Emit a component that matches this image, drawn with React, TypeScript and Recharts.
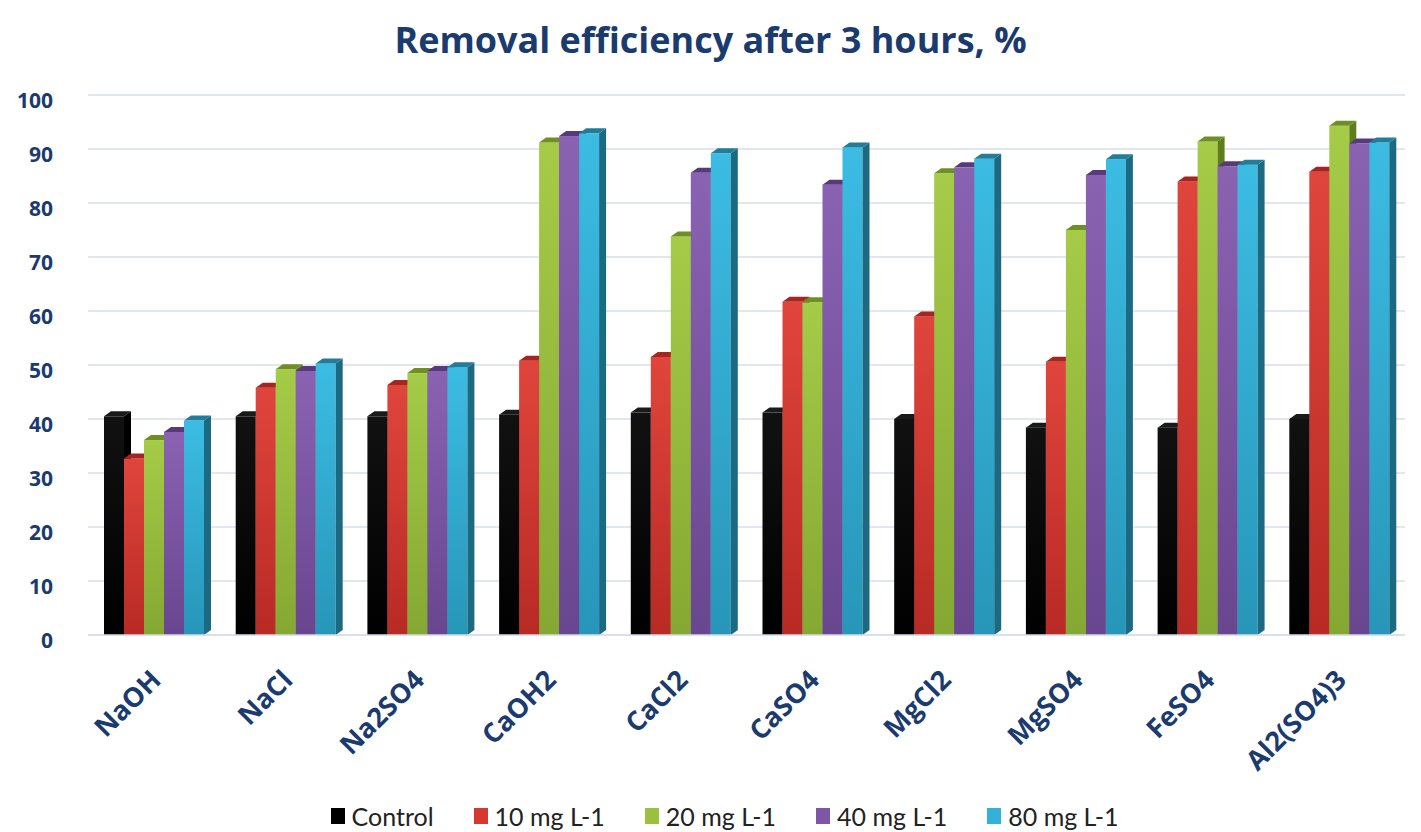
import React from 'react';
import { BarChart, Bar, XAxis, YAxis, CartesianGrid, Legend } from 'recharts';

const categories = ['NaOH', 'NaCl', 'Na2SO4', 'CaOH2', 'CaCl2', 'CaSO4', 'MgCl2', 'MgSO4', 'FeSO4', 'Al2(SO4)3'];
const control = [40.5, 40.5, 40.5, 40.8, 41.2, 41.2, 40.0, 38.4, 38.4, 40.0];
const mg10 = [32.7, 45.8, 46.3, 50.8, 51.5, 61.7, 59.0, 50.6, 84.0, 85.8];
const mg20 = [36.1, 49.2, 48.5, 91.2, 73.8, 61.6, 85.5, 75.0, 91.4, 94.3];
const mg40 = [37.6, 48.9, 48.9, 92.4, 85.6, 83.4, 86.6, 85.2, 86.8, 91.0];
const mg80 = [39.7, 50.3, 49.6, 92.9, 89.2, 90.3, 88.2, 88.1, 87.1, 91.2];
const yTicks = [0, 10, 20, 30, 40, 50, 60, 70, 80, 90, 100];

const data = categories.map((name, i) => ({
  name,
  control: control[i],
  mg10: mg10[i],
  mg20: mg20[i],
  mg40: mg40[i],
  mg80: mg80[i],
}));

const series = [
  { key: 'control', label: 'Control', color: '#000000', light: '#111111', dark: '#000000', side: '#000000', top: '#1a1a1a' },
  { key: 'mg10', label: '10 mg L-1', color: '#D6372F', light: '#E0453C', dark: '#B82A24', side: '#8A1D18', top: '#A8241F' },
  { key: 'mg20', label: '20 mg L-1', color: '#9AC03E', light: '#A6CB48', dark: '#84A832', side: '#5E7E1E', top: '#6E9023' },
  { key: 'mg40', label: '40 mg L-1', color: '#7E56A6', light: '#8A62B2', dark: '#694690', side: '#4A2F6A', top: '#583A7C' },
  { key: 'mg80', label: '80 mg L-1', color: '#33B2D9', light: '#3CBCE3', dark: '#2796B8', side: '#1C6A82', top: '#217E9A' },
];

const navy = '#1B3B6F';

const Bar3D = (props: any) => {
  const { x, y, width, height, fill, side, top } = props;
  if (!height || height <= 0) return null;
  const d = 7;
  const e = 5;
  return (
    <g>
      <rect x={x} y={y} width={width} height={height} fill={fill} />
      <polygon
        points={`${x + width},${y} ${x + width + d},${y - e} ${x + width + d},${y + height - e} ${x + width},${y + height}`}
        fill={side}
      />
      <polygon points={`${x},${y} ${x + d},${y - e} ${x + width + d},${y - e} ${x + width},${y}`} fill={top} />
    </g>
  );
};

const CategoryTick = (props: any) => {
  const { x, y, payload } = props;
  return (
    <g transform={`translate(${x + 2},${y + 38})`}>
      <text
        transform="rotate(-45)"
        textAnchor="end"
        dy="0.35em"
        fill={navy}
        fontSize={27}
        fontWeight={700}
        fontFamily="'Open Sans', sans-serif"
      >
        {payload.value}
      </text>
    </g>
  );
};

const ValueTick = (props: any) => {
  const { x, y, payload } = props;
  return (
    <text
      x={x}
      y={y + 6}
      textAnchor="end"
      dy="0.35em"
      fill={navy}
      fontSize={21}
      fontWeight={700}
      fontFamily="'Open Sans', sans-serif"
    >
      {payload.value}
    </text>
  );
};

const LegendContent = () => (
  <div
    style={{
      display: 'flex',
      justifyContent: 'center',
      alignItems: 'center',
      gap: 40,
      height: 32,
      paddingLeft: 44,
      fontFamily: 'Lato, sans-serif',
      fontSize: 25,
      color: '#222',
    }}
  >
    {series.map((s) => (
      <div key={s.key} style={{ display: 'flex', alignItems: 'center' }}>
        <span style={{ width: 14, height: 16, background: s.color, marginRight: 7, display: 'inline-block' }} />
        <span>{s.label}</span>
      </div>
    ))}
  </div>
);

export default function App() {
  return (
    <div style={{ position: 'absolute', left: 0, top: 0, width: 1421, height: 832, background: '#fff' }}>
      <div
        style={{
          position: 'absolute',
          top: 15,
          left: 0,
          width: 1421,
          textAlign: 'center',
          fontFamily: "'Open Sans', sans-serif",
          fontWeight: 700,
          fontSize: 36,
          color: navy,
        }}
      >
        Removal efficiency after 3 hours, %
      </div>
      <BarChart
        width={1421}
        height={832}
        data={data}
        margin={{ top: 95, right: 16, left: 0, bottom: 0 }}
        barCategoryGap={16}
        barGap={0}
      >
        <defs>
          {series.map((s) => (
            <linearGradient key={s.key} id={`grad-${s.key}`} x1="0" y1="0" x2="0" y2="1">
              <stop offset="0%" stopColor={s.light} />
              <stop offset="100%" stopColor={s.dark} />
            </linearGradient>
          ))}
        </defs>
        <CartesianGrid vertical={false} stroke="#D7DEEA" strokeWidth={1.5} />
        <XAxis
          dataKey="name"
          height={165}
          axisLine={{ stroke: '#D7DEEA', strokeWidth: 1.5 }}
          tickLine={false}
          tickSize={0}
          interval={0}
          tick={<CategoryTick />}
        />
        <YAxis
          width={88}
          domain={[0, 100]}
          ticks={yTicks}
          axisLine={false}
          tickLine={false}
          tickSize={0}
          tickMargin={35}
          tick={<ValueTick />}
        />
        <Legend verticalAlign="bottom" content={<LegendContent />} />
        {series.map((s) => (
          <Bar
            key={s.key}
            dataKey={s.key}
            name={s.label}
            fill={`url(#grad-${s.key})`}
            isAnimationActive={false}
            shape={(p: any) => <Bar3D {...p} side={s.side} top={s.top} />}
          />
        ))}
      </BarChart>
    </div>
  );
}
